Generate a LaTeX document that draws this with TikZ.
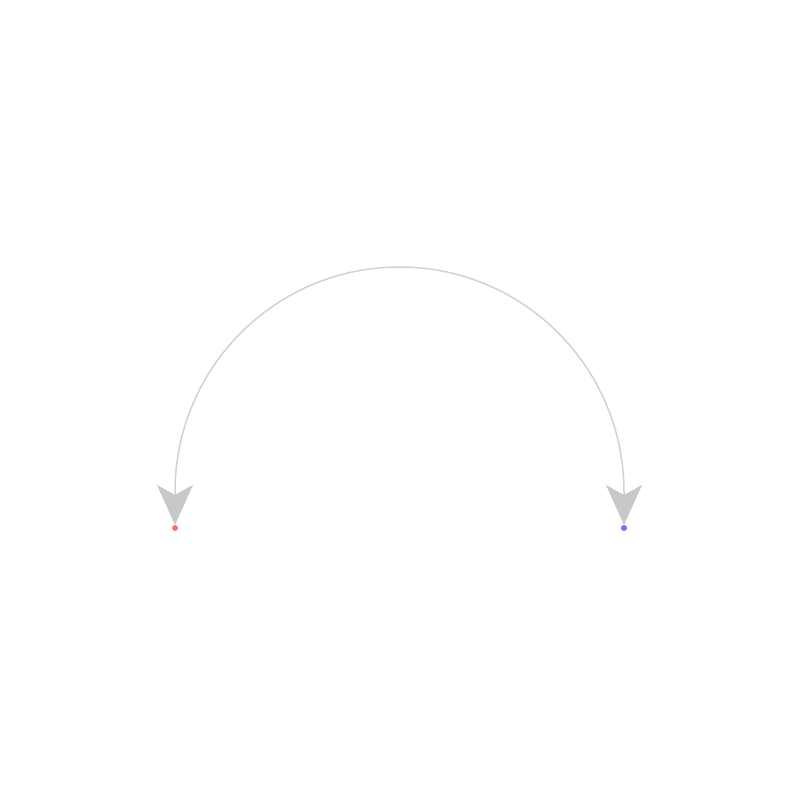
\documentclass[tikz,border=0pt]{standalone}
\usetikzlibrary{arrows.meta}
\definecolor{arcgray}{HTML}{D2D2D2}
\definecolor{tipgray}{HTML}{C8C8C8}
\definecolor{dotred}{HTML}{FF7070}
\definecolor{dotblue}{HTML}{7070FF}
\tikzset{
  dot/.style={circle,inner sep=0pt,minimum size=6pt,draw=none},
  link/.style={draw=arcgray,line width=1.5pt,
    {Stealth[length=40pt,width=36pt,inset=10pt,color=tipgray]}-{Stealth[length=40pt,width=36pt,inset=10pt,color=tipgray]}}
}
\begin{document}
\begin{tikzpicture}[x=1pt,y=-1pt]
\useasboundingbox (0,0) rectangle (800,800);
\node[dot,fill=dotred] (a) at (175,528) {};
\node[dot,fill=dotblue] (b) at (624,528) {};
\coordinate (ta) at (175,525);
\coordinate (tb) at (624,525);
\draw[link] (ta) -- (175,492) arc[start angle=180,end angle=0,x radius=224.5,y radius=-225] -- (tb);
\end{tikzpicture}
\end{document}
